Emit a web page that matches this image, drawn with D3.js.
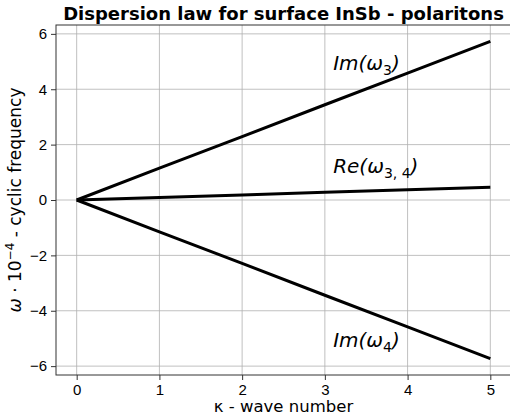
<!DOCTYPE html>
<html>
<head>
<meta charset="utf-8">
<script src="https://cdn.jsdelivr.net/npm/d3@7"></script>
<style>
  body { margin: 0; background: #fff; }
  svg { display: block; font-family: "DejaVu Sans", sans-serif; }
  .tick text { font-size: 15px; fill: #000; }
</style>
</head>
<body>
<div id="chart"></div>
<script>
// data
const kappa = [0, 1, 2, 3, 4, 5];
const imOmega3 = [0, 1.15, 2.29, 3.44, 4.58, 5.73];
const reOmega34 = [0, 0.09, 0.18, 0.28, 0.37, 0.46];
const imOmega4 = [0, -1.15, -2.29, -3.44, -4.58, -5.73];
const xTicks = [0, 1, 2, 3, 4, 5];
const yTicks = [-6, -4, -2, 0, 2, 4, 6];

const W = 510, H = 419;
const margin = { top: 25, right: -1, bottom: 44, left: 56 };
const width = W - margin.left - margin.right;
const height = H - margin.top - margin.bottom;

const svg = d3.select("#chart").append("svg")
    .attr("width", W)
    .attr("height", H);

const g = svg.append("g")
    .attr("transform", `translate(${margin.left},${margin.top})`);

const x = d3.scaleLinear().domain([-0.25, 5.25]).range([0, width]);
const y = d3.scaleLinear().domain([-6.32, 6.32]).range([height, 0]);

// grid
g.append("g").selectAll("line").data(xTicks).enter().append("line")
    .attr("x1", d => x(d)).attr("x2", d => x(d))
    .attr("y1", 0).attr("y2", height)
    .attr("stroke", "#b0b0b0").attr("stroke-width", 0.8);
g.append("g").selectAll("line").data(yTicks).enter().append("line")
    .attr("y1", d => y(d)).attr("y2", d => y(d))
    .attr("x1", 0).attr("x2", width)
    .attr("stroke", "#b0b0b0").attr("stroke-width", 0.8);

// axes
const xAxis = g.append("g")
    .attr("transform", `translate(0,${height})`)
    .call(d3.axisBottom(x).tickValues(xTicks).tickSize(5).tickPadding(4).tickFormat(d3.format("d")));
const yAxis = g.append("g")
    .call(d3.axisLeft(y).tickValues(yTicks).tickSize(5).tickPadding(4)
        .tickFormat(d => d < 0 ? "\u2212" + Math.abs(d) : d));
[xAxis, yAxis].forEach(a => {
    a.select(".domain").remove();
    a.selectAll(".tick line").attr("stroke", "#333").attr("stroke-width", 1);
});

// frame
g.append("rect")
    .attr("width", width).attr("height", height)
    .attr("fill", "none").attr("stroke", "#333").attr("stroke-width", 1);

// lines
const line = d3.line()
    .x((d, i) => x(kappa[i]))
    .y(d => y(d));

[imOmega3, reOmega34, imOmega4].forEach(s => {
    g.append("path")
        .datum(s)
        .attr("fill", "none")
        .attr("stroke", "#000")
        .attr("stroke-width", 3)
        .attr("d", line);
});

// curve labels
const labels = [
    { y: 4.7, main: "Im(ω", sub: "3", tail: ")" },
    { y: 0.98, main: "Re(ω", sub: "3, 4", tail: ")" },
    { y: -5.3, main: "Im(ω", sub: "4", tail: ")" }
];
labels.forEach(l => {
    const t = g.append("text")
        .attr("x", x(3.1))
        .attr("y", y(l.y))
        .attr("font-size", 20)
        .attr("font-style", "italic");
    t.append("tspan").text(l.main);
    t.append("tspan").attr("font-size", 14).attr("font-style", "normal").attr("dy", 5).text(l.sub);
    t.append("tspan").attr("dy", -5).text(l.tail);
});

// title
svg.append("text")
    .attr("x", margin.left + width / 2)
    .attr("y", 20)
    .attr("text-anchor", "middle")
    .attr("font-size", 18)
    .attr("font-weight", "bold")
    .text("Dispersion law for surface InSb - polaritons");

// x label
svg.append("text")
    .attr("x", margin.left + width / 2)
    .attr("y", 412)
    .attr("text-anchor", "middle")
    .attr("font-size", 16.5)
    .text("κ - wave number");

// y label
const yl = svg.append("text")
    .attr("transform", `translate(21,${margin.top + height / 2}) rotate(-90)`)
    .attr("text-anchor", "middle")
    .attr("font-size", 17);
yl.append("tspan").attr("font-style", "italic").text("ω");
yl.append("tspan").text(" · 10");
yl.append("tspan").attr("font-size", 12).attr("dy", -7).text("−4");
yl.append("tspan").attr("dy", 7).text(" - cyclic frequency");
</script>
</body>
</html>
